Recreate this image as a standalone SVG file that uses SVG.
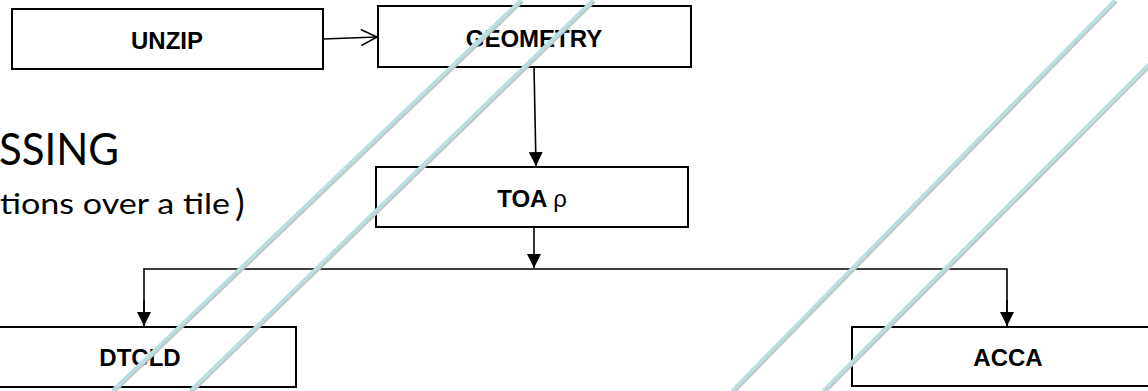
<svg xmlns="http://www.w3.org/2000/svg" width="1148" height="391" viewBox="0 0 1148 391">
  <style>
    .box { fill: #ffffff; stroke: #000000; stroke-width: 2; }
    .lbl { font-family: "Liberation Sans", Arial, sans-serif; font-weight: bold; font-size: 24px; fill: #000000; text-anchor: middle; }
    .wire { fill: none; stroke: #000000; stroke-width: 1.6; }
    .title { font-family: Lato, "Open Sans", sans-serif; fill: #000000; }
    .deco { fill: none; stroke: #b8dfe1; stroke-width: 3.5; stroke-linecap: butt; }
    .deco-shadow { fill: none; stroke: #c4c4c4; stroke-width: 3; }
  </style>
  <defs>
    <marker id="solid" markerUnits="userSpaceOnUse" markerWidth="16" markerHeight="14" refX="14" refY="7" orient="auto">
      <path d="M0,0 L14,7 L0,14 Z" fill="#000000"/>
    </marker>
    <marker id="open" markerUnits="userSpaceOnUse" markerWidth="20" markerHeight="20" refX="17" refY="9" orient="auto">
      <path d="M1,1 L17,9 L1,17" fill="none" stroke="#000000" stroke-width="1.6"/>
    </marker>
    <filter id="soft" x="-5%" y="-5%" width="110%" height="110%">
      <feGaussianBlur stdDeviation="0.7"/>
    </filter>
  </defs>

  <rect width="1148" height="391" fill="#ffffff"/>

  <!-- heading text, running off the left edge -->
  <g id="heading">
    <text class="title" x="-1" y="165" font-size="44" textLength="120" lengthAdjust="spacingAndGlyphs">SSING</text>
    <text class="title" x="0" y="214" font-size="28" textLength="230" lengthAdjust="spacingAndGlyphs">tions over a tile</text>
    <text class="title" x="235" y="216" font-size="36">)</text>
  </g>

  <!-- connectors -->
  <g id="connectors">
    <line class="wire" x1="323" y1="39" x2="377" y2="37" marker-end="url(#open)"/>
    <line class="wire" x1="534" y1="67" x2="536" y2="166" marker-end="url(#solid)"/>
    <line class="wire" x1="534" y1="227" x2="534" y2="268" marker-end="url(#solid)"/>
    <polyline class="wire" points="144,326 144,269 1007,269 1007,326"/>
    <line class="wire" x1="144" y1="300" x2="144" y2="326" marker-end="url(#solid)"/>
    <line class="wire" x1="1007" y1="300" x2="1007" y2="326" marker-end="url(#solid)"/>
  </g>

  <!-- nodes -->
  <g id="unzip">
    <rect class="box" x="12" y="9" width="311" height="60"/>
    <text class="lbl" x="167" y="49">UNZIP</text>
  </g>
  <g id="geometry">
    <rect class="box" x="378" y="6" width="313" height="61"/>
    <text class="lbl" x="534" y="47">GEOMETRY</text>
  </g>
  <g id="toa">
    <rect class="box" x="376" y="167" width="312" height="60"/>
    <text class="lbl" x="532" y="207">TOA <tspan font-weight="normal">ρ</tspan></text>
  </g>
  <g id="dtcld">
    <rect class="box" x="-5" y="327" width="301" height="60"/>
    <text class="lbl" x="140" y="366">DTCLD</text>
  </g>
  <g id="acca">
    <rect class="box" x="852" y="327" width="310" height="59"/>
    <text class="lbl" x="1008" y="366">ACCA</text>
  </g>

  <!-- decorative diagonal strokes laid over the chart -->
  <g id="diagonals">
    <g filter="url(#soft)">
      <line class="deco-shadow" x1="522.5" y1="1.5" x2="113.5" y2="392.5"/>
      <line class="deco-shadow" x1="594.5" y1="1.5" x2="191.5" y2="392.5"/>
      <line class="deco-shadow" x1="1116.5" y1="1.5" x2="733.5" y2="392.5"/>
      <line class="deco-shadow" x1="1214.5" y1="1.5" x2="824.5" y2="392.5"/>
    </g>
    <line class="deco" x1="521" y1="0" x2="112" y2="391"/>
    <line class="deco" x1="593" y1="0" x2="190" y2="391"/>
    <line class="deco" x1="1115" y1="0" x2="732" y2="391"/>
    <line class="deco" x1="1213" y1="0" x2="823" y2="391"/>
  </g>
</svg>
